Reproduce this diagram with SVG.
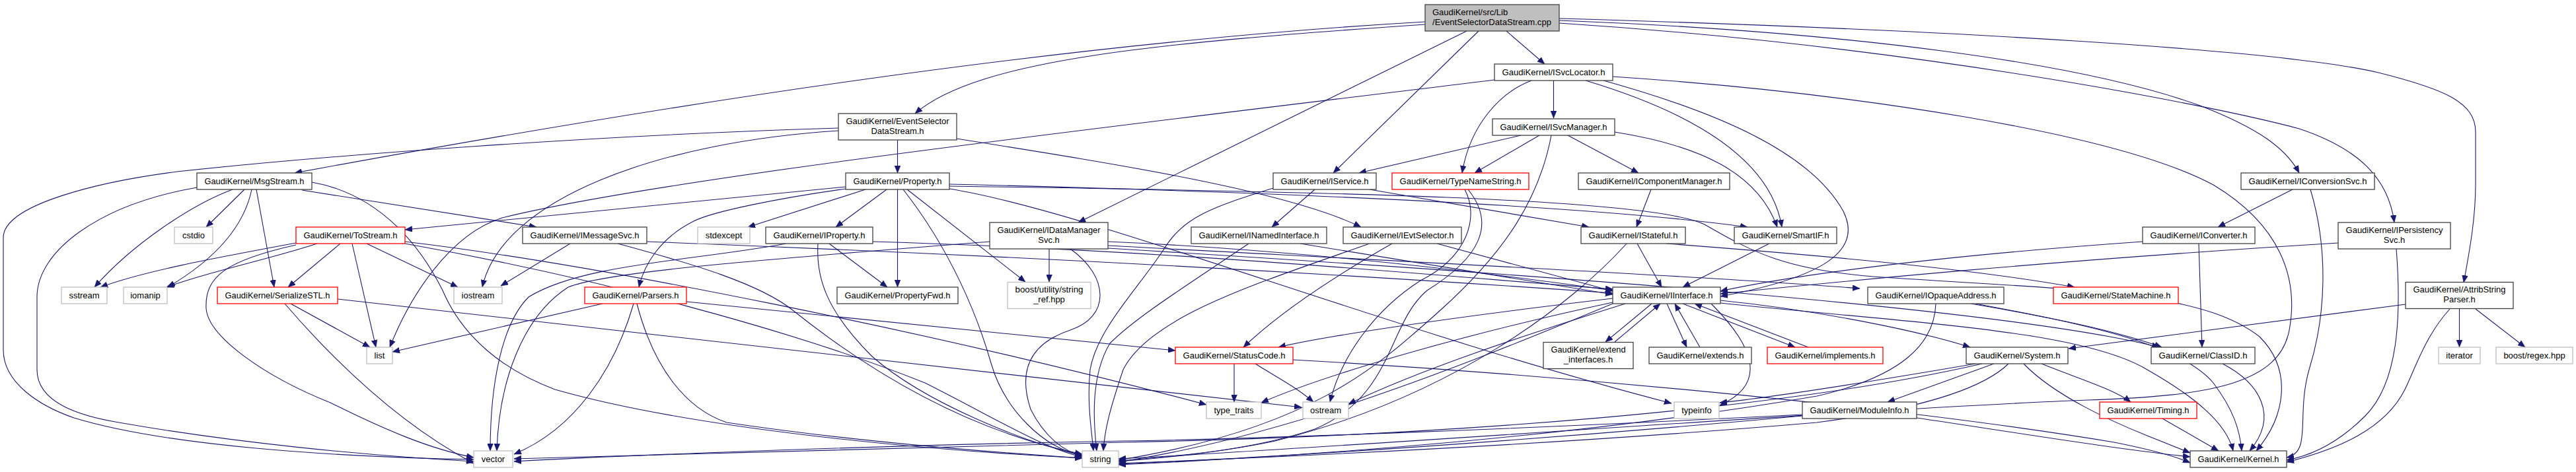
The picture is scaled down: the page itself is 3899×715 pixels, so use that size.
<svg xmlns="http://www.w3.org/2000/svg" width="3899" height="715" viewBox="0 0 3899 715">
<style>
.e{fill:none;stroke:#191970;stroke-width:1.1;marker-end:url(#arr)}
.b rect{fill:#fff;stroke:#404040;stroke-width:1.3}
.g rect{fill:#fff;stroke:#bfbfbf;stroke-width:1.3}
.r rect{fill:#fff;stroke:#ff0000;stroke-width:1.3}
.t rect{fill:#bfbfbf;stroke:#404040;stroke-width:1.3}
text{font-family:"Liberation Sans",Arial,Helvetica,sans-serif;font-size:13px;fill:#000;text-anchor:middle}
text.l{text-anchor:start}
</style>
<defs>
<marker id="arr" markerWidth="11" markerHeight="9" refX="11" refY="4.5" orient="auto" markerUnits="userSpaceOnUse">
<path d="M0,0 L11,4.5 L0,9 z" fill="#191970" stroke="#191970" stroke-width="0.5"/>
</marker>
</defs>
<rect width="3899" height="715" fill="#fff"/>
<g id="edges">
<path class="e" d="M2157,33 C1600,65 1000,160 446,262"/>
<path class="e" d="M2157,37 C1750,65 1480,90 1385,172"/>
<path class="e" d="M2220,47 L1632,337"/>
<path class="e" d="M2238,47 L2018,262"/>
<path class="e" d="M2280,47 L2338,97"/>
<path class="e" d="M2360,31 C2800,48 3150,95 3330,160 C3420,195 3460,225 3480,262"/>
<path class="e" d="M2360,35 C2900,70 3350,160 3480,195 C3570,225 3615,270 3624,337"/>
<path class="e" d="M2360,28 C2950,45 3450,75 3600,110 C3700,135 3747,155 3747,200 L3747,280 C3747,330 3738,380 3729,428"/>
<path class="e" d="M1358.5,212 L1358.5,262"/>
<path class="e" d="M1448,210 C1700,250 1950,290 2060,344"/>
<path class="e" d="M1269,198 C1000,215 760,300 730,435"/>
<path class="e" d="M1269,194 C900,205 500,235 268,260 C150,275 5,310 5,360 L5,530 C5,580 60,615 112,633 C250,675 500,692 717,696"/>
<path class="e" d="M457,288 L812,344"/>
<path class="e" d="M388,287 L415,435"/>
<path class="e" d="M370,287 L312,344"/>
<path class="e" d="M381,287 C370,340 330,390 254,435"/>
<path class="e" d="M352,287 C290,310 200,370 143,435"/>
<path class="e" d="M472,276 C580,295 640,380 670,440 C700,510 760,560 840,590 C1050,650 1400,682 1638,694"/>
<path class="e" d="M298,284 C150,310 56,380 56,450 L56,560 C56,610 120,630 180,640 C350,670 550,690 717,699"/>
<path class="e" d="M1280,283 L613,348"/>
<path class="e" d="M1310,287 L1132,344"/>
<path class="e" d="M1342,287 L1265,344"/>
<path class="e" d="M1358.5,287 L1358.5,435"/>
<path class="e" d="M1280,286 C1180,300 1080,320 1050,335 C1000,360 975,400 967,435"/>
<path class="e" d="M1373,287 L1552,427"/>
<path class="e" d="M1367,287 C1440,380 1480,480 1500,550 C1520,620 1580,680 1638,690"/>
<path class="e" d="M1437,286 C1650,320 2100,500 2530,611"/>
<path class="e" d="M1437,279 C1900,290 2400,310 2645,344"/>
<path class="e" d="M1437,282 C2000,290 2500,300 2580,340 C2650,380 2700,410 2850,420 C3150,440 3330,440 3420,510 C3470,560 3460,630 3415,683"/>
<path class="e" d="M1990,287 L1925,344"/>
<path class="e" d="M2073,287 L2405,344"/>
<path class="e" d="M1927,285 C1830,315 1790,330 1760,380 C1720,440 1660,500 1650,560 C1645,610 1652,650 1655,683"/>
<path class="e" d="M2351.5,122 L2351.5,179"/>
<path class="e" d="M2318,122 C2270,140 2225,190 2213,262"/>
<path class="e" d="M2400,122 C2560,170 2680,240 2697,344"/>
<path class="e" d="M2427,122 C2600,170 2740,230 2790,320 C2820,380 2760,420 2604,449"/>
<path class="e" d="M2262,121 C1700,190 1000,270 760,330 C680,355 620,450 590,526"/>
<path class="e" d="M2441,116 C2800,140 3200,200 3350,280 C3450,340 3480,420 3465,500 C3450,580 3350,600 3160,606 C2800,620 2000,680 1693,695"/>
<path class="e" d="M2302,205 L2057,262"/>
<path class="e" d="M2330,205 L2232,262"/>
<path class="e" d="M2373,205 L2480,262"/>
<path class="e" d="M2444,200 C2570,220 2660,260 2690,344"/>
<path class="e" d="M2348,205 C2330,300 2280,380 2180,470 C2080,560 1980,650 1693,697"/>
<path class="e" d="M2217,287 C2240,330 2220,390 2150,425 C2080,470 2030,540 2013,609"/>
<path class="e" d="M2222,287 C2265,340 2240,390 2160,440 C2100,490 2110,600 1990,650 C1900,680 1800,690 1693,698"/>
<path class="e" d="M2499,287 L2477,344"/>
<path class="e" d="M3470,287 L3357,344"/>
<path class="e" d="M3497,287 C3525,380 3520,480 3495,560 C3475,630 3500,685 3461,693"/>
<path class="e" d="M3328,369 L3333,526"/>
<path class="e" d="M3243,366 C2900,390 2700,420 2604,441"/>
<path class="e" d="M3539,368 C3100,395 2800,425 2604,445"/>
<path class="e" d="M3627,377 C3635,480 3630,580 3580,630 C3540,670 3500,690 3461,697"/>
<path class="e" d="M3722.5,468 L3722.5,526"/>
<path class="e" d="M3747,468 L3822,526"/>
<path class="e" d="M3641,461 L3131,528"/>
<path class="e" d="M3708,468 C3670,510 3655,560 3640,590 C3610,650 3540,680 3461,700"/>
<path class="e" d="M1588,377 L1588,427"/>
<path class="e" d="M1620,377 C1680,420 1680,480 1620,500 C1560,520 1540,560 1560,620 C1580,660 1610,685 1638,690"/>
<path class="e" d="M1677,366 C2000,380 2300,420 2441,440"/>
<path class="e" d="M1498,366 C1200,390 920,410 860,435 C790,480 755,580 752,683"/>
<path class="e" d="M1677,372 C2200,400 2600,420 2815,437"/>
<path class="e" d="M1677,376 C2400,420 3050,470 3268,526"/>
<path class="e" d="M1255,369 L1343,435"/>
<path class="e" d="M1238,369 C1235,420 1250,470 1320,540 C1400,610 1550,670 1638,690"/>
<path class="e" d="M1321,366 C1800,380 2200,420 2441,438"/>
<path class="e" d="M1190,369 C1050,395 880,400 800,450 C760,490 742,580 742,683"/>
<path class="e" d="M863,369 L758,433"/>
<path class="e" d="M979,366 C1600,390 2100,420 2441,444"/>
<path class="e" d="M935,369 C1050,400 1150,430 1200,470 C1300,550 1450,650 1638,688"/>
<path class="e" d="M912,460 L594,533"/>
<path class="e" d="M959,460 C930,560 870,650 778,688"/>
<path class="e" d="M964,460 C990,560 1040,620 1100,640 C1300,670 1500,685 1638,694"/>
<path class="e" d="M1039,457 L1779,531"/>
<path class="e" d="M448,368 C330,390 220,410 152,435"/>
<path class="e" d="M480,369 C400,395 320,410 252,435"/>
<path class="e" d="M515,369 L436,435"/>
<path class="e" d="M533,369 L569,526"/>
<path class="e" d="M555,369 L693,435"/>
<path class="e" d="M448,371 C340,395 310,420 312,467 C315,510 400,570 500,610 C580,650 650,680 717,693"/>
<path class="e" d="M613,366 C900,400 1400,500 1826,613"/>
<path class="e" d="M613,369 C900,420 1200,500 1400,580 C1500,630 1580,680 1638,692"/>
<path class="e" d="M440,460 L560,526"/>
<path class="e" d="M431,460 C500,540 600,640 717,702"/>
<path class="e" d="M511,453 L1970,617"/>
<path class="e" d="M2175,369 L2441,441"/>
<path class="e" d="M2107,369 C2000,430 1930,480 1882,526"/>
<path class="e" d="M2073,369 C1900,430 1740,480 1700,560 C1680,620 1672,650 1670,683"/>
<path class="e" d="M1968,369 L2441,446"/>
<path class="e" d="M1890,369 C1800,430 1720,480 1680,520 C1650,570 1655,640 1660,683"/>
<path class="e" d="M2478,369 L2515,435"/>
<path class="e" d="M2522,369 C2800,390 3000,410 3140,435"/>
<path class="e" d="M2462,369 C2380,460 2200,600 1930,668 C1850,685 1750,695 1693,699"/>
<path class="e" d="M2678,369 L2547,435"/>
<path class="e" d="M2500,460 L2430,518"/>
<path class="e" d="M2444,518 L2513,460"/>
<path class="e" d="M2523,460 L2553,526"/>
<path class="e" d="M2573,526 L2535,460"/>
<path class="e" d="M2547,460 L2717,526"/>
<path class="e" d="M2737,526 L2565,460"/>
<path class="e" d="M2604,455 C2750,470 2900,500 2982,526"/>
<path class="e" d="M2460,460 C2300,510 2150,560 2041,612"/>
<path class="e" d="M2441,458 C2200,510 2000,570 1909,610"/>
<path class="e" d="M2441,460 C2200,560 1950,660 1693,700"/>
<path class="e" d="M2590,460 C2650,520 2680,580 2603,614"/>
<path class="e" d="M2441,452 C2200,480 2000,510 1935,526"/>
<path class="e" d="M2604,459 C2900,490 3150,500 3250,560 C3320,600 3370,640 3380,683"/>
<path class="e" d="M1868,551 L1868,609"/>
<path class="e" d="M1900,551 C1930,570 1960,585 1988,609"/>
<path class="e" d="M1957,545 C2400,570 2900,620 3200,670 C3250,680 3290,690 3315,701"/>
<path class="e" d="M2990,551 C2850,575 2700,600 2603,610"/>
<path class="e" d="M3018,551 L2857,609"/>
<path class="e" d="M3040,551 C3000,590 2900,620 2750,640 C2400,670 2000,690 1693,702"/>
<path class="e" d="M3000,551 C2700,620 2200,660 1700,670 C1300,678 900,690 778,695"/>
<path class="e" d="M3090,551 C3150,575 3200,590 3225,609"/>
<path class="e" d="M3063,551 C3110,600 3200,640 3250,660 C3280,672 3300,680 3315,686"/>
<path class="e" d="M2728,628 C2300,650 1900,665 1700,668 C1300,675 900,692 778,699"/>
<path class="e" d="M2728,630 C2400,660 2000,690 1693,703"/>
<path class="e" d="M2901,633 C3050,655 3200,680 3315,692"/>
<path class="e" d="M3273,634 L3358,683"/>
<path class="e" d="M3364,551 C3420,580 3450,630 3405,683"/>
<path class="e" d="M2983,460 C3100,480 3200,500 3272,526"/>
<path class="e" d="M2990,460 C3150,490 3300,520 3350,580 C3380,620 3390,650 3393,683"/>
<path class="e" d="M2930,460 C2928,520 2880,570 2750,600 C2400,660 2000,690 1693,704"/>
</g>
<g id="n-top" class="t"><rect x="2157" y="7" width="203" height="40"/><text class="l" x="2168" y="22.5">GaudiKernel/src/Lib</text><text class="l" x="2168" y="37.5" textLength="180" lengthAdjust="spacingAndGlyphs">/EventSelectorDataStream.cpp</text></g>
<g id="n-ISvcLocator" class="b"><rect x="2262" y="97" width="179" height="25"/><text x="2351.5" y="113.5" textLength="156" lengthAdjust="spacingAndGlyphs">GaudiKernel/ISvcLocator.h</text></g>
<g id="n-ISvcManager" class="b"><rect x="2259" y="180" width="185" height="25"/><text x="2351.5" y="196.5" textLength="162" lengthAdjust="spacingAndGlyphs">GaudiKernel/ISvcManager.h</text></g>
<g id="n-EventSelectorDataStream" class="b"><rect x="1269" y="172" width="179" height="40"/><text x="1358.5" y="187.5" textLength="156" lengthAdjust="spacingAndGlyphs">GaudiKernel/EventSelector</text><text x="1358.5" y="202.5">DataStream.h</text></g>
<g id="n-MsgStream" class="b"><rect x="298" y="262" width="174" height="25"/><text x="385" y="278.5" textLength="151" lengthAdjust="spacingAndGlyphs">GaudiKernel/MsgStream.h</text></g>
<g id="n-Property" class="b"><rect x="1280" y="262" width="157" height="25"/><text x="1358.5" y="278.5" textLength="134" lengthAdjust="spacingAndGlyphs">GaudiKernel/Property.h</text></g>
<g id="n-IService" class="b"><rect x="1927" y="262" width="156" height="25"/><text x="2005" y="278.5" textLength="133" lengthAdjust="spacingAndGlyphs">GaudiKernel/IService.h</text></g>
<g id="n-TypeNameString" class="r"><rect x="2107" y="262" width="207" height="25"/><text x="2210.5" y="278.5" textLength="184" lengthAdjust="spacingAndGlyphs">GaudiKernel/TypeNameString.h</text></g>
<g id="n-IComponentManager" class="b"><rect x="2389" y="262" width="229" height="25"/><text x="2503.5" y="278.5" textLength="206" lengthAdjust="spacingAndGlyphs">GaudiKernel/IComponentManager.h</text></g>
<g id="n-IConversionSvc" class="b"><rect x="3392" y="262" width="202" height="25"/><text x="3493" y="278.5" textLength="179" lengthAdjust="spacingAndGlyphs">GaudiKernel/IConversionSvc.h</text></g>
<g id="n-cstdio" class="g"><rect x="264" y="344" width="58" height="25"/><text x="293" y="360.5">cstdio</text></g>
<g id="n-ToStream" class="r"><rect x="448" y="344" width="165" height="25"/><text x="530.5" y="360.5" textLength="142" lengthAdjust="spacingAndGlyphs">GaudiKernel/ToStream.h</text></g>
<g id="n-IMessageSvc" class="b"><rect x="791" y="344" width="188" height="25"/><text x="885" y="360.5" textLength="165" lengthAdjust="spacingAndGlyphs">GaudiKernel/IMessageSvc.h</text></g>
<g id="n-stdexcept" class="g"><rect x="1056" y="344" width="79" height="25"/><text x="1095.5" y="360.5">stdexcept</text></g>
<g id="n-IProperty" class="b"><rect x="1159" y="344" width="162" height="25"/><text x="1240" y="360.5" textLength="139" lengthAdjust="spacingAndGlyphs">GaudiKernel/IProperty.h</text></g>
<g id="n-IDataManagerSvc" class="b"><rect x="1498" y="337" width="179" height="40"/><text x="1587.5" y="352.5" textLength="156" lengthAdjust="spacingAndGlyphs">GaudiKernel/IDataManager</text><text x="1587.5" y="367.5">Svc.h</text></g>
<g id="n-INamedInterface" class="b"><rect x="1803" y="344" width="205" height="25"/><text x="1905.5" y="360.5" textLength="182" lengthAdjust="spacingAndGlyphs">GaudiKernel/INamedInterface.h</text></g>
<g id="n-IEvtSelector" class="b"><rect x="2033" y="344" width="179" height="25"/><text x="2122.5" y="360.5" textLength="156" lengthAdjust="spacingAndGlyphs">GaudiKernel/IEvtSelector.h</text></g>
<g id="n-IStateful" class="b"><rect x="2393" y="344" width="158" height="25"/><text x="2472" y="360.5" textLength="135" lengthAdjust="spacingAndGlyphs">GaudiKernel/IStateful.h</text></g>
<g id="n-SmartIF" class="b"><rect x="2625" y="344" width="155" height="25"/><text x="2702.5" y="360.5" textLength="132" lengthAdjust="spacingAndGlyphs">GaudiKernel/SmartIF.h</text></g>
<g id="n-IConverter" class="b"><rect x="3243" y="344" width="170" height="25"/><text x="3328" y="360.5" textLength="147" lengthAdjust="spacingAndGlyphs">GaudiKernel/IConverter.h</text></g>
<g id="n-IPersistencySvc" class="b"><rect x="3539" y="337" width="170" height="40"/><text x="3624" y="352.5" textLength="147" lengthAdjust="spacingAndGlyphs">GaudiKernel/IPersistency</text><text x="3624" y="367.5">Svc.h</text></g>
<g id="n-sstream" class="g"><rect x="93" y="435" width="69" height="25"/><text x="127.5" y="451.5">sstream</text></g>
<g id="n-iomanip" class="g"><rect x="187" y="435" width="66" height="25"/><text x="220" y="451.5">iomanip</text></g>
<g id="n-SerializeSTL" class="r"><rect x="329" y="435" width="182" height="25"/><text x="420" y="451.5" textLength="159" lengthAdjust="spacingAndGlyphs">GaudiKernel/SerializeSTL.h</text></g>
<g id="n-iostream" class="g"><rect x="687" y="435" width="73" height="25"/><text x="723.5" y="451.5">iostream</text></g>
<g id="n-Parsers" class="r"><rect x="885" y="435" width="154" height="25"/><text x="962" y="451.5" textLength="131" lengthAdjust="spacingAndGlyphs">GaudiKernel/Parsers.h</text></g>
<g id="n-PropertyFwd" class="b"><rect x="1267" y="435" width="183" height="25"/><text x="1358.5" y="451.5" textLength="160" lengthAdjust="spacingAndGlyphs">GaudiKernel/PropertyFwd.h</text></g>
<g id="n-string_ref" class="g"><rect x="1525" y="427.5" width="126" height="40"/><text x="1588" y="443" textLength="103" lengthAdjust="spacingAndGlyphs">boost/utility/string</text><text x="1588" y="458">_ref.hpp</text></g>
<g id="n-IInterface" class="b"><rect x="2441" y="435" width="163" height="25"/><text x="2522.5" y="451.5" textLength="140" lengthAdjust="spacingAndGlyphs">GaudiKernel/IInterface.h</text></g>
<g id="n-IOpaqueAddress" class="b"><rect x="2827" y="435" width="206" height="25"/><text x="2930" y="451.5" textLength="183" lengthAdjust="spacingAndGlyphs">GaudiKernel/IOpaqueAddress.h</text></g>
<g id="n-StateMachine" class="r"><rect x="3108" y="435" width="189" height="25"/><text x="3202.5" y="451.5" textLength="166" lengthAdjust="spacingAndGlyphs">GaudiKernel/StateMachine.h</text></g>
<g id="n-AttribStringParser" class="b"><rect x="3641" y="427.5" width="163" height="40"/><text x="3722.5" y="443" textLength="140" lengthAdjust="spacingAndGlyphs">GaudiKernel/AttribString</text><text x="3722.5" y="458">Parser.h</text></g>
<g id="n-list" class="g"><rect x="555" y="526" width="39" height="25"/><text x="574.5" y="542.5">list</text></g>
<g id="n-StatusCode" class="r"><rect x="1779" y="526" width="178" height="25"/><text x="1868" y="542.5" textLength="155" lengthAdjust="spacingAndGlyphs">GaudiKernel/StatusCode.h</text></g>
<g id="n-extend_interfaces" class="b"><rect x="2336" y="518.5" width="136" height="40"/><text x="2404" y="534" textLength="113" lengthAdjust="spacingAndGlyphs">GaudiKernel/extend</text><text x="2404" y="549">_interfaces.h</text></g>
<g id="n-extends" class="b"><rect x="2496" y="526" width="155" height="25"/><text x="2573.5" y="542.5" textLength="132" lengthAdjust="spacingAndGlyphs">GaudiKernel/extends.h</text></g>
<g id="n-implements" class="r"><rect x="2675" y="526" width="175" height="25"/><text x="2762.5" y="542.5" textLength="152" lengthAdjust="spacingAndGlyphs">GaudiKernel/implements.h</text></g>
<g id="n-System" class="b"><rect x="2976" y="526" width="154" height="25"/><text x="3053" y="542.5" textLength="131" lengthAdjust="spacingAndGlyphs">GaudiKernel/System.h</text></g>
<g id="n-ClassID" class="b"><rect x="3256" y="526" width="157" height="25"/><text x="3334.5" y="542.5" textLength="134" lengthAdjust="spacingAndGlyphs">GaudiKernel/ClassID.h</text></g>
<g id="n-iterator" class="g"><rect x="3691" y="526" width="63" height="25"/><text x="3722.5" y="542.5">iterator</text></g>
<g id="n-regex" class="g"><rect x="3778" y="526" width="116" height="25"/><text x="3836" y="542.5">boost/regex.hpp</text></g>
<g id="n-type_traits" class="g"><rect x="1826" y="609" width="83" height="25"/><text x="1867.5" y="625.5">type_traits</text></g>
<g id="n-ostream" class="g"><rect x="1972" y="609" width="69" height="25"/><text x="2006.5" y="625.5">ostream</text></g>
<g id="n-typeinfo" class="g"><rect x="2534" y="609" width="68" height="25"/><text x="2568" y="625.5">typeinfo</text></g>
<g id="n-ModuleInfo" class="b"><rect x="2728" y="609" width="173" height="25"/><text x="2814.5" y="625.5" textLength="150" lengthAdjust="spacingAndGlyphs">GaudiKernel/ModuleInfo.h</text></g>
<g id="n-Timing" class="r"><rect x="3178" y="609" width="147" height="25"/><text x="3251.5" y="625.5" textLength="124" lengthAdjust="spacingAndGlyphs">GaudiKernel/Timing.h</text></g>
<g id="n-vector" class="g"><rect x="717" y="683" width="59" height="25"/><text x="746.5" y="699.5">vector</text></g>
<g id="n-string" class="g"><rect x="1638" y="683" width="55" height="25"/><text x="1665.5" y="699.5">string</text></g>
<g id="n-Kernel" class="b"><rect x="3315" y="683" width="146" height="25"/><text x="3388" y="699.5" textLength="123" lengthAdjust="spacingAndGlyphs">GaudiKernel/Kernel.h</text></g>
</svg>
